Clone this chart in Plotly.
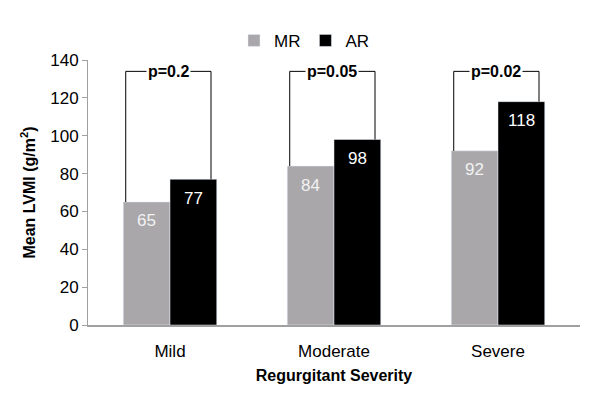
import plotly.graph_objects as go

severity = ["Mild", "Moderate", "Severe"]
mr_values = [65, 84, 92]
ar_values = [77, 98, 118]
p_labels = ["p=0.2", "p=0.05", "p=0.02"]
bracket_top = 134

x_pos = list(range(len(severity)))
FONT = "Liberation Sans"
half = 0.1425  # half of one bar's slot in the group

fig = go.Figure()
fig.add_trace(go.Bar(x=x_pos, y=mr_values, name="MR", marker_color="#a9a7aa"))
fig.add_trace(go.Bar(x=x_pos, y=ar_values, name="AR", marker_color="#000000"))

# value labels a bit below bar tops, like the original
for i, (mr, ar) in enumerate(zip(mr_values, ar_values)):
    fig.add_annotation(x=i - half, y=mr, text=str(mr), showarrow=False, yshift=-19,
                       font=dict(size=17, color="#f2f2f2", family=FONT))
    fig.add_annotation(x=i + half, y=ar, text=str(ar), showarrow=False, yshift=-19,
                       font=dict(size=17, color="#ffffff", family=FONT))

# significance brackets over each pair
for i, (mr, ar, p) in enumerate(zip(mr_values, ar_values, p_labels)):
    xl, xr = i - 0.27, i + 0.25
    fig.add_shape(type="path",
                  path=f"M {xl} {mr} L {xl} {bracket_top} L {xr} {bracket_top} L {xr} {ar}",
                  line=dict(color="black", width=1))
    fig.add_annotation(x=(xl + xr) / 2, y=bracket_top, text=f"<b>{p}</b>",
                       showarrow=False, bgcolor="white",
                       font=dict(size=16, color="black", family=FONT),
                       borderpad=1)

fig.update_layout(
    width=600, height=403,
    margin=dict(l=80, r=28, t=52, b=86),
    plot_bgcolor="white", paper_bgcolor="white",
    barmode="group", bargap=0.43, bargroupgap=0,
    font=dict(family=FONT, size=17, color="black"),
    legend=dict(orientation="h", x=0.44, xanchor="center", y=1.14, yanchor="top",
                font=dict(size=17), itemwidth=30, traceorder="normal",
                tracegroupgap=0),
    showlegend=True,
)
fig.update_xaxes(
    tickvals=x_pos, ticktext=severity, range=[-0.5, 2.5],
    showline=True, linecolor="#a0a0a0", linewidth=1.5, ticks="",
    tickfont=dict(size=17), ticklabelstandoff=10,
    title=dict(text="<b>Regurgitant Severity</b>", font=dict(size=16), standoff=10),
    showgrid=False, zeroline=False,
)
fig.update_yaxes(
    range=[0, 140], dtick=20, showline=True, linecolor="#a0a0a0", linewidth=1,
    ticks="outside", ticklen=5, tickcolor="#a0a0a0",
    tickfont=dict(size=17),
    title=dict(text="<b>Mean LVMI (g/m<sup>2</sup>)</b>", font=dict(size=16), standoff=10),
    showgrid=False, zeroline=False,
)

fig.write_html("out.html")
